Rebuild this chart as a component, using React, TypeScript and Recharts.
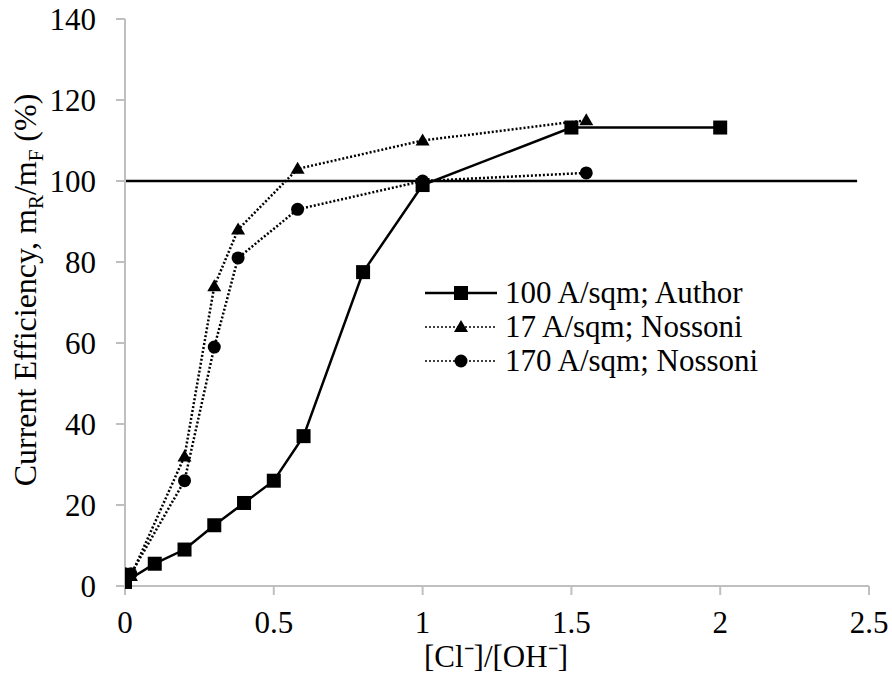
import React from "react";
import { Line, LineChart, XAxis, YAxis } from "recharts";

const authorX = [0, 0.1, 0.2, 0.3, 0.4, 0.5, 0.6, 0.8, 1, 1.5, 2];
const authorY = [1, 5.5, 9, 15, 20.5, 26, 37, 77.5, 99, 113.2, 113.2];

const nossoni17X = [0.02, 0.2, 0.3, 0.38, 0.58, 1, 1.55];
const nossoni17Y = [2.5, 32, 74, 88, 103, 110, 115];

const nossoni170X = [0, 0.02, 0.2, 0.3, 0.38, 0.58, 1, 1.55];
const nossoni170Y = [3, 3, 26, 59, 81, 93, 100, 102];

const refX = [0, 2.46];
const refY = [100, 100];

const xTicks = [0, 0.5, 1, 1.5, 2, 2.5];
const yTicks = [0, 20, 40, 60, 80, 100, 120, 140];

const seriesNames = ["100 A/sqm; Author", "17 A/sqm; Nossoni", "170 A/sqm; Nossoni"];

const zip = (xs: number[], ys: number[]) => xs.map((x, i) => ({ x, y: ys[i] }));

const authorData = zip(authorX, authorY);
const n17Data = zip(nossoni17X, nossoni17Y);
const n170Data = zip(nossoni170X, nossoni170Y);
const refData = zip(refX, refY);

const font = "'Liberation Serif', 'Times New Roman', serif";
const grey = "#bfbfbf";

function Square(props: any) {
  const { cx, cy, index } = props;
  return <rect key={`sq-${index}`} x={cx - 7} y={cy - 7} width={14} height={14} fill="#000" />;
}

function Triangle(props: any) {
  const { cx, cy, index } = props;
  return <polygon key={`tr-${index}`} points={`${cx},${cy - 7} ${cx - 7},${cy + 5} ${cx + 7},${cy + 5}`} fill="#000" />;
}

function Circle(props: any) {
  const { cx, cy, index } = props;
  return <circle key={`ci-${index}`} cx={cx} cy={cy} r={6.5} fill="#000" />;
}

function YTick(props: any) {
  const { y, payload } = props;
  return (
    <text x={96} y={y} dy="0.355em" textAnchor="end" fontFamily={font} fontSize={31} fill="#000">
      {payload.value}
    </text>
  );
}

// legend drawn as a plain overlay so it doesn't eat plot space
function LegendBox() {
  const rows = [
    { name: seriesNames[0], dash: undefined, marker: "sq" },
    { name: seriesNames[1], dash: "2 2", marker: "tr" },
    { name: seriesNames[2], dash: "2 2", marker: "ci" }
  ];
  return (
    <div style={{ position: "absolute", left: 425, top: 276, fontFamily: font, fontSize: 31, lineHeight: "34px", color: "#000" }}>
      {rows.map((r) => (
        <div key={r.name} style={{ display: "flex", alignItems: "center", height: 34, whiteSpace: "nowrap" }}>
          <svg width={72} height={20} style={{ marginRight: 8 }}>
            <line x1={0} y1={10} x2={72} y2={10} stroke="#000" strokeWidth={r.dash ? 1.5 : 2.5} strokeDasharray={r.dash} />
            {r.marker === "sq" && <rect x={29} y={3} width={14} height={14} fill="#000" />}
            {r.marker === "tr" && <polygon points="36,3 29,15 43,15" fill="#000" />}
            {r.marker === "ci" && <circle cx={36} cy={10} r={6.5} fill="#000" />}
          </svg>
          <span>{r.name}</span>
        </div>
      ))}
    </div>
  );
}

function YLabel() {
  return (
    <text x={36} y={290} transform="rotate(-90 36 290)" textAnchor="middle" fontFamily={font} fontSize={32} fill="#000">
      <tspan>Current Efficiency, m</tspan>
      <tspan fontSize={21} dy={7}>R</tspan>
      <tspan dy={-7}>/m</tspan>
      <tspan fontSize={21} dy={7}>F</tspan>
      <tspan dy={-7}> (%)</tspan>
    </text>
  );
}

function XLabel() {
  return (
    <text x={496} y={667} textAnchor="middle" fontFamily={font} fontSize={31} fill="#000">
      [Cl⁻]/[OH⁻]
    </text>
  );
}

export default function App() {
  return (
    <div style={{ position: "absolute", left: 0, top: 0, width: 892, height: 688, fontFamily: font }}>
      <LineChart width={892} height={688} margin={{ top: 19, right: 23, left: 0, bottom: 0 }}>
        <XAxis
          type="number"
          dataKey="x"
          domain={[0, 2.5]}
          ticks={xTicks}
          allowDataOverflow
          height={102}
          stroke={grey}
          strokeWidth={2}
          tickSize={9}
          tickMargin={16}
          tick={{ fill: "#000", fontSize: 31, fontFamily: font }}
          label={<XLabel />}
        />
        <YAxis
          type="number"
          dataKey="y"
          domain={[0, 140]}
          ticks={yTicks}
          width={125}
          stroke={grey}
          strokeWidth={2}
          tickSize={9}
          tick={<YTick />}
          label={<YLabel />}
        />
        <Line data={refData} dataKey="y" stroke="#000" strokeWidth={2.5} dot={false} isAnimationActive={false} legendType="none" />
        <Line data={n17Data} dataKey="y" name={seriesNames[1]} stroke="#000" strokeWidth={2.5} strokeDasharray="2 2" dot={Triangle} isAnimationActive={false} />
        <Line data={n170Data} dataKey="y" name={seriesNames[2]} stroke="#000" strokeWidth={2.5} strokeDasharray="2 2" dot={Circle} isAnimationActive={false} />
        <Line data={authorData} dataKey="y" name={seriesNames[0]} stroke="#000" strokeWidth={2.5} dot={Square} isAnimationActive={false} />
      </LineChart>
      <LegendBox />
    </div>
  );
}
